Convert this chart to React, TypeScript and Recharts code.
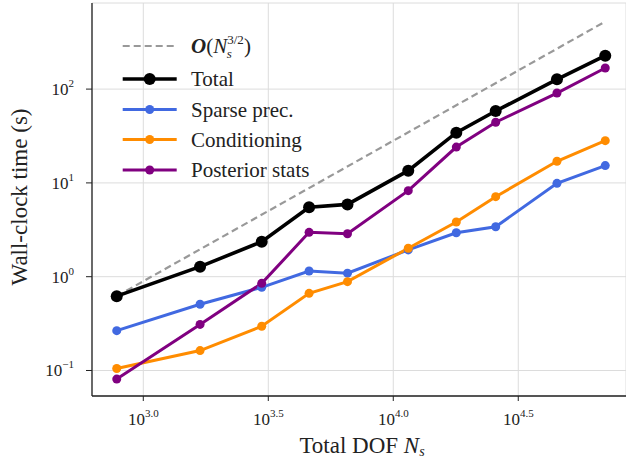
import { CartesianGrid, Line, LineChart, XAxis, YAxis } from "recharts";

// Timings (log-log)
const dof = [783, 1687, 2977, 4605, 6559, 11480, 17870, 25690, 45170, 70470];
const totalTime = [0.62, 1.28, 2.36, 5.5, 5.9, 13.5, 34.3, 58.4, 127, 227];
const sparseTime = [0.266, 0.508, 0.77, 1.15, 1.09, 1.93, 2.94, 3.41, 9.9, 15.3];
const condTime = [0.105, 0.163, 0.296, 0.665, 0.885, 2.01, 3.83, 7.13, 17.0, 28.2];
const postTime = [0.081, 0.31, 0.85, 2.97, 2.87, 8.26, 24.1, 44.3, 90.8, 168];

// O(N^{3/2}) guide: straight in log-log, so two end points are enough
const refDof = [783, 70470];
const refTime = [0.62, 525];

const xTicks = [1000, 3162.28, 10000, 31622.8];
const xTickExps = ["3.0", "3.5", "4.0", "4.5"];
const yTicks = [0.1, 1, 10, 100];
const yTickExps = ["\u22121", "0", "1", "2"];

const FONT = "'Liberation Serif', 'Times New Roman', serif";
const INK = "#222";

const xDomain = [10 ** 2.7948, 10 ** 4.931];
const yDomain = [10 ** -1.272, 10 ** 2.918];

const rows = dof.map((d, i) => ({
  dof: d,
  total: totalTime[i],
  sparse: sparseTime[i],
  cond: condTime[i],
  post: postTime[i],
}));
const refRows = refDof.map((d, i) => ({ dof: d, ref: refTime[i] }));

const series = [
  { key: "total", name: "Total", color: "#000000", width: 3.6, r: 6 },
  { key: "sparse", name: "Sparse prec.", color: "#4169E1", width: 3, r: 4.5 },
  { key: "cond", name: "Conditioning", color: "#FF8C00", width: 3, r: 4.5 },
  { key: "post", name: "Posterior stats", color: "#800080", width: 3, r: 4.5 },
];

const idx = (arr: number[], v: number) =>
  arr.findIndex((t) => Math.abs(Math.log10(t) - Math.log10(v)) < 1e-3);

function XTick({ x, y, payload }: any) {
  const i = idx(xTicks, payload.value);
  return (
    <text x={x} y={y + 22} textAnchor="middle" style={{ fontFamily: FONT }} fontSize={17} fill={INK}>
      <tspan>10</tspan>
      <tspan dy={-8} fontSize={11}>
        {xTickExps[i]}
      </tspan>
    </text>
  );
}

function YTick({ x, y, payload }: any) {
  const i = idx(yTicks, payload.value);
  return (
    <text x={x} y={y + 6} textAnchor="end" style={{ fontFamily: FONT }} fontSize={17} fill={INK}>
      <tspan>10</tspan>
      <tspan dy={-8} fontSize={11}>
        {yTickExps[i]}
      </tspan>
    </text>
  );
}

function ChartLegend() {
  const rowsY = [46, 79, 109.5, 139.5, 170];
  const x0 = 122.7;
  const x1 = 176.7;
  const xm = (x0 + x1) / 2;
  const tx = 191;
  return (
    <svg
      width={626}
      height={458}
      style={{ position: "absolute", left: 0, top: 0, pointerEvents: "none", fontFamily: FONT }}
    >
      <line x1={x0} x2={x1} y1={rowsY[0]} y2={rowsY[0]} stroke="#999" strokeWidth={2.2} strokeDasharray="7 4" />
      <text x={tx} y={rowsY[0] + 7} style={{ fontFamily: FONT }} fontSize={21} fill={INK}>
        <tspan fontWeight="bold" fontStyle="italic">O</tspan>
        <tspan>(</tspan>
        <tspan fontStyle="italic">N</tspan>
        <tspan dy={-9} fontSize={13}>3/2</tspan>
        <tspan dx={-17} dy={14} fontSize={13} fontStyle="italic">s</tspan>
        <tspan dx={12} dy={-5}>)</tspan>
      </text>
      {series.map((s, i) => (
        <g key={s.key}>
          <line x1={x0} x2={x1} y1={rowsY[i + 1]} y2={rowsY[i + 1]} stroke={s.color} strokeWidth={s.width} />
          <circle cx={xm} cy={rowsY[i + 1]} r={s.r} fill={s.color} />
          <text x={tx} y={rowsY[i + 1] + 7} style={{ fontFamily: FONT }} fontSize={21} fill={INK}>
            {s.name}
          </text>
        </g>
      ))}
    </svg>
  );
}

export default function App() {
  return (
    <div style={{ position: "absolute", left: 0, top: 0, width: 626, height: 458, background: "#fff" }}>
      <LineChart width={626} height={458} margin={{ top: 3, right: 0, left: 0, bottom: 0 }}>
        <CartesianGrid stroke="#dcdcdc" strokeWidth={1} />
        <XAxis
          dataKey="dof"
          type="number"
          scale="log"
          domain={xDomain}
          allowDataOverflow
          ticks={xTicks}
          tick={<XTick />}
          tickSize={5}
          tickMargin={2}
          height={62}
          axisLine={{ stroke: INK, strokeWidth: 1.3 }}
          tickLine={{ stroke: INK }}
          label={{
            content: () => (
              <text x={362} y={453} textAnchor="middle" style={{ fontFamily: FONT }} fontSize={23} fill={INK}>
                <tspan>Total DOF </tspan>
                <tspan fontStyle="italic">N</tspan>
                <tspan dy={3} fontSize={14} fontStyle="italic">s</tspan>
              </text>
            ),
          }}
        />
        <XAxis
          xAxisId="top"
          orientation="top"
          dataKey="dof"
          type="number"
          scale="log"
          domain={xDomain}
          allowDataOverflow
          height={0}
          tick={false}
          tickLine={false}
          axisLine={{ stroke: INK, strokeWidth: 1.3 }}
        />
        <YAxis
          type="number"
          scale="log"
          domain={yDomain}
          allowDataOverflow
          ticks={yTicks}
          tick={<YTick />}
          tickSize={6}
          tickMargin={12}
          width={92}
          axisLine={{ stroke: INK, strokeWidth: 1.3 }}
          tickLine={{ stroke: INK }}
          label={{
            content: () => (
              <text
                x={0}
                y={0}
                transform="translate(27 197) rotate(-90)"
                textAnchor="middle"
                style={{ fontFamily: FONT }}
                fontSize={23}
                fill={INK}
              >
                Wall-clock time (s)
              </text>
            ),
          }}
        />
        <Line
          data={refRows}
          dataKey="ref"
          stroke="#999999"
          strokeWidth={2.2}
          strokeDasharray="7 4"
          dot={false}
          activeDot={false}
          isAnimationActive={false}
        />
        {series.map((s) => (
          <Line
            key={s.key}
            data={rows}
            dataKey={s.key}
            stroke={s.color}
            strokeWidth={s.width}
            dot={{ r: s.r, fill: s.color, stroke: "none" }}
            activeDot={false}
            isAnimationActive={false}
          />
        ))}
      </LineChart>
      <ChartLegend />
    </div>
  );
}
